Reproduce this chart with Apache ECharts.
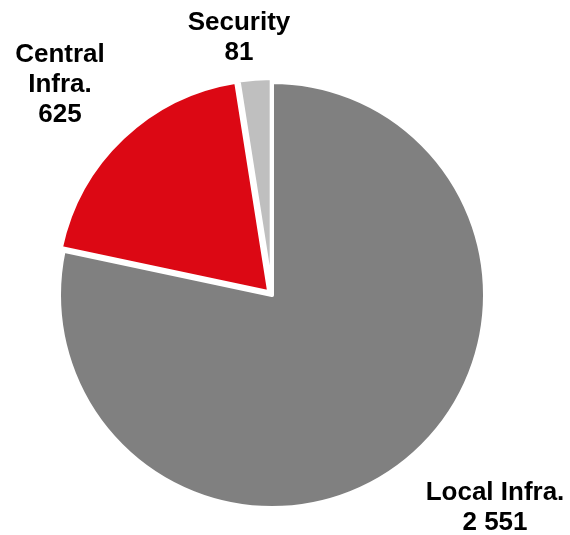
<!DOCTYPE html>
<html><head><meta charset="utf-8">
<script src="https://cdn.jsdelivr.net/npm/echarts@6/dist/echarts.min.js"></script>
<style>html,body{margin:0;padding:0;background:#fff}#c{width:570px;height:535px}</style>
</head><body><div id="c"></div>
<script>
const categories = ['Local Infra.', 'Central Infra.', 'Security'];
const values = [2551, 625, 81];
const valueLabels = ['2 551', '625', '81'];
const labelNames = ['Local Infra.', 'Central\nInfra.', 'Security'];
const colors = ['#808080', '#DC0814', '#BFBFBF'];
const labelPos = [[495, 508], [60, 85], [239, 38]];

const chart = echarts.init(document.getElementById('c'));
chart.setOption({
  animation: false,
  series: [{
    type: 'pie',
    center: [272, 295],
    radius: [0, 213],
    startAngle: 90,
    clockwise: true,
    selectedMode: 'multiple',
    selectedOffset: 4,
    itemStyle: { borderColor: '#fff', borderWidth: 4 },
    label: { show: false },
    labelLine: { show: false },
    emphasis: { disabled: true },
    data: categories.map((c, i) => ({ name: c, value: values[i], selected: i > 0, itemStyle: { color: colors[i] } }))
  }],
  graphic: categories.map((c, i) => ({
    type: 'text',
    x: labelPos[i][0],
    y: labelPos[i][1],
    silent: true,
    style: {
      text: labelNames[i] + '\n' + valueLabels[i],
      align: 'center',
      verticalAlign: 'middle',
      fontFamily: 'Liberation Sans, Arial, sans-serif',
      fontWeight: 'bold',
      fontSize: 26,
      lineHeight: 30,
      fill: '#000'
    }
  }))
});
</script></body></html>
